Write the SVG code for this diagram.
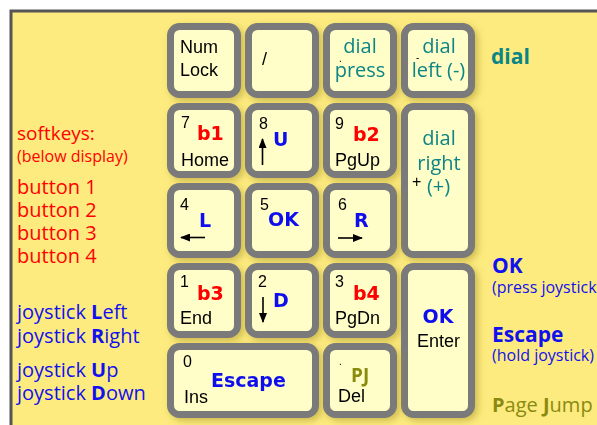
<svg xmlns="http://www.w3.org/2000/svg" width="597" height="425" viewBox="0 0 597 425">
<defs>
<style>
.k{fill:#FFFDC8;stroke:#7A7A7A;stroke-width:7}
.n{font-family:"Liberation Sans",Arial,sans-serif;font-size:16px;fill:#000}
.w{font-family:"Liberation Sans",Arial,sans-serif;font-size:18px;fill:#000}
.s{font-family:"Liberation Sans",Arial,sans-serif;font-size:10px;fill:#000}
.b{font-family:"DejaVu Sans",Verdana,sans-serif;font-size:19px;font-weight:bold}
.tl{font-family:"Open Sans","Noto Sans",sans-serif;font-size:20px;fill:#0B8585}
.m{font-family:"Open Sans","Noto Sans",sans-serif}
.red{fill:#FF0000}.blue{fill:#1111EE}.teal{fill:#0B8585}.olive{fill:#8A8A10}
.ar{stroke:#000;stroke-width:1.6;fill:none}
</style>
<filter id="sh" x="-20%" y="-20%" width="150%" height="150%">
<feGaussianBlur in="SourceAlpha" stdDeviation="3.5"/>
<feOffset dx="3" dy="3" result="o"/>
<feFlood flood-color="#A89428" flood-opacity="0.55"/>
<feComposite in2="o" operator="in"/>
<feMerge><feMergeNode/><feMergeNode in="SourceGraphic"/></feMerge>
</filter>
<marker id="ah" markerUnits="userSpaceOnUse" markerWidth="10" markerHeight="8" refX="9" refY="4" orient="auto">
<path d="M0,0 L10,4 L0,8 z" fill="#000"/>
</marker>
</defs>
<rect x="0" y="0" width="597" height="425" fill="#FFFFFF"/>
<rect x="11" y="11" width="600" height="430" fill="#FDEB7F" stroke="#555555" stroke-width="3"/>

<!-- side labels -->
<g id="softkeys-legend" class="m red">
<text x="17" y="140" font-size="19">softkeys:</text>
<text x="17" y="162" font-size="16">(below display)</text>
<text x="17" y="194" font-size="20">button 1</text>
<text x="17" y="217" font-size="20">button 2</text>
<text x="17" y="240" font-size="20">button 3</text>
<text x="17" y="263" font-size="20">button 4</text>
</g>
<g id="joystick-legend" class="m blue" font-size="20">
<text x="17" y="319">joystick <tspan font-weight="bold">L</tspan>eft</text>
<text x="17" y="343">joystick <tspan font-weight="bold">R</tspan>ight</text>
<text x="17" y="377">joystick <tspan font-weight="bold">U</tspan>p</text>
<text x="17" y="400">joystick <tspan font-weight="bold">D</tspan>own</text>
</g>
<g id="right-legend" class="m">
<text x="491" y="64" font-size="21" font-weight="bold" class="teal">dial</text>
<text x="492" y="273" font-size="21" font-weight="bold" class="blue">OK</text>
<text x="492" y="293" font-size="16" class="blue">(press joystick</text>
<text x="492" y="342" font-size="21" font-weight="bold" class="blue">Escape</text>
<text x="492" y="361" font-size="16" class="blue">(hold joystick)</text>
<text x="492" y="412" font-size="20" class="olive"><tspan font-weight="bold">P</tspan>age <tspan font-weight="bold">J</tspan>ump</text>
</g>

<!-- row 1 -->
<g id="key-numlock" filter="url(#sh)">
<rect class="k" x="170.5" y="26.5" width="67" height="68" rx="9"/>
<text class="w" x="180" y="53">Num</text>
<text class="w" x="180" y="76">Lock</text>
</g>
<g id="key-slash" filter="url(#sh)">
<rect class="k" x="248.5" y="26.5" width="67" height="68" rx="9"/>
<text class="w" x="262" y="65">/</text>
</g>
<g id="key-star" filter="url(#sh)">
<rect class="k" x="326.5" y="26.5" width="67" height="68" rx="9"/>
<text class="tl" x="360" y="53" text-anchor="middle">dial</text>
<text class="s" x="339" y="62">.</text>
<text class="tl" x="360" y="77" text-anchor="middle">press</text>
</g>
<g id="key-minus" filter="url(#sh)">
<rect class="k" x="404.5" y="26.5" width="67" height="68" rx="9"/>
<text class="tl" x="439" y="53" text-anchor="middle">dial</text>
<text class="s" x="416" y="61">-</text>
<text class="tl" x="438.5" y="77" text-anchor="middle">left (-)</text>
</g>

<!-- row 2 -->
<g id="key-7" filter="url(#sh)">
<rect class="k" x="170.5" y="106.5" width="67" height="68" rx="9"/>
<text class="n" x="181" y="128">7</text>
<text class="b red" x="197" y="140">b1</text>
<text class="w" x="181" y="166">Home</text>
</g>
<g id="key-8" filter="url(#sh)">
<rect class="k" x="248.5" y="106.5" width="67" height="68" rx="9"/>
<text class="n" x="259" y="129">8</text>
<line class="ar" x1="262.5" y1="165" x2="262.5" y2="139" marker-end="url(#ah)"/>
<text class="b blue" x="273" y="146">U</text>
</g>
<g id="key-9" filter="url(#sh)">
<rect class="k" x="326.5" y="106.5" width="67" height="68" rx="9"/>
<text class="n" x="335" y="129">9</text>
<text class="b red" x="353" y="141">b2</text>
<text class="w" x="335" y="166">PgUp</text>
</g>
<g id="key-plus" filter="url(#sh)">
<rect class="k" x="404.5" y="106.5" width="67" height="148" rx="9"/>
<text class="tl" x="439" y="145" text-anchor="middle">dial</text>
<text class="tl" x="439" y="170" text-anchor="middle">right</text>
<text class="n" x="412" y="187" font-size="14">+</text>
<text class="tl" x="438.5" y="193" text-anchor="middle">(+)</text>
</g>

<!-- row 3 -->
<g id="key-4" filter="url(#sh)">
<rect class="k" x="170.5" y="186.5" width="67" height="68" rx="9"/>
<text class="n" x="180" y="210">4</text>
<text class="b blue" x="199" y="227">L</text>
<line class="ar" x1="205" y1="237.5" x2="181" y2="237.5" marker-end="url(#ah)"/>
</g>
<g id="key-5" filter="url(#sh)">
<rect class="k" x="248.5" y="186.5" width="67" height="68" rx="9"/>
<text class="n" x="260" y="210">5</text>
<text class="b blue" x="268" y="226">OK</text>
</g>
<g id="key-6" filter="url(#sh)">
<rect class="k" x="326.5" y="186.5" width="67" height="68" rx="9"/>
<text class="n" x="338" y="210">6</text>
<text class="b blue" x="354" y="227">R</text>
<line class="ar" x1="338" y1="238" x2="362" y2="238" marker-end="url(#ah)"/>
</g>

<!-- row 4 -->
<g id="key-1" filter="url(#sh)">
<rect class="k" x="170.5" y="266.5" width="67" height="68" rx="9"/>
<text class="n" x="180" y="287">1</text>
<text class="b red" x="197" y="300">b3</text>
<text class="w" x="180" y="324">End</text>
</g>
<g id="key-2" filter="url(#sh)">
<rect class="k" x="248.5" y="266.5" width="67" height="68" rx="9"/>
<text class="n" x="258" y="287">2</text>
<line class="ar" x1="263" y1="297" x2="263" y2="322" marker-end="url(#ah)"/>
<text class="b blue" x="273" y="307">D</text>
</g>
<g id="key-3" filter="url(#sh)">
<rect class="k" x="326.5" y="266.5" width="67" height="68" rx="9"/>
<text class="n" x="335" y="287">3</text>
<text class="b red" x="353" y="300">b4</text>
<text class="w" x="335" y="324">PgDn</text>
</g>
<g id="key-enter" filter="url(#sh)">
<rect class="k" x="404.5" y="266.5" width="67" height="148" rx="9"/>
<text class="b blue" x="438" y="323" text-anchor="middle">OK</text>
<text class="w" x="438.5" y="347" text-anchor="middle">Enter</text>
</g>

<!-- row 5 -->
<g id="key-0" filter="url(#sh)">
<rect class="k" x="170.5" y="346.5" width="145" height="68" rx="9"/>
<text class="n" x="183" y="367">0</text>
<text class="b blue" x="211" y="387">Escape</text>
<text class="w" x="184" y="403">Ins</text>
</g>
<g id="key-del" filter="url(#sh)">
<rect class="k" x="326.5" y="346.5" width="67" height="68" rx="9"/>
<text class="s" x="339" y="365">.</text>
<text class="m olive" x="351" y="382" font-size="19" font-weight="bold">PJ</text>
<text class="w" x="338" y="402">Del</text>
</g>
</svg>
